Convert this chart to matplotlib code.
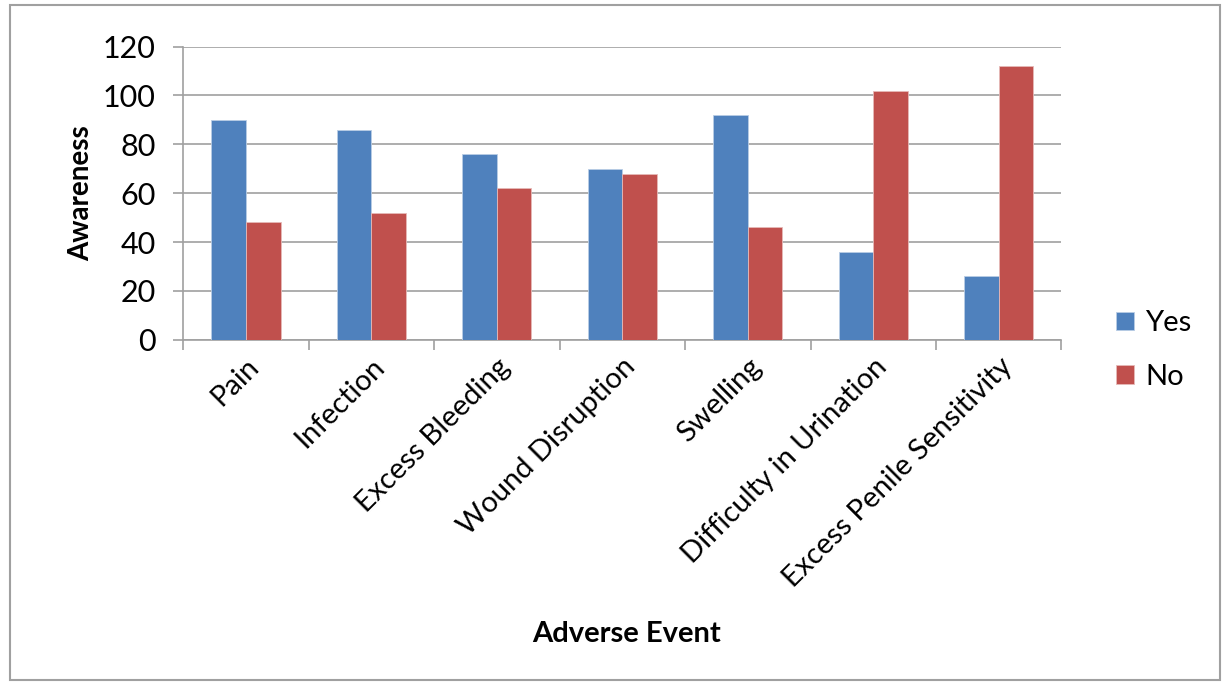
import matplotlib.pyplot as plt
import numpy as np
from matplotlib.patches import Rectangle

plt.rcParams['font.family'] = ['Lato', 'DejaVu Sans']

events = ['Pain', 'Infection', 'Excess Bleeding', 'Wound Disruption', 'Swelling',
          'Difficulty in Urination', 'Excess Penile Sensitivity']
yes = [90, 86, 76, 70, 92, 36, 26]
no = [48, 52, 62, 68, 46, 102, 112]

fig = plt.figure(figsize=(12.3, 6.85), dpi=100)
ax = fig.add_axes([0.149, 0.504, 0.714, 0.428])

x = np.arange(len(events))
w = 0.275
ax.bar(x - w / 2, yes, w, color='#4F81BD', edgecolor='#B9CDE5', linewidth=0.6, label='Yes', zorder=3)
ax.bar(x + w / 2, no, w, color='#C0504D', edgecolor='#E6B9B8', linewidth=0.6, label='No', zorder=3)

ax.set_xlim(-0.5, len(events) - 0.5)
ax.set_ylim(0, 120)
ax.set_yticks(range(0, 121, 20))
ax.yaxis.grid(True, color='#A0A0A0', linewidth=1.2, zorder=0)

# category boundary ticks on x axis
ax.set_xticks(np.arange(-0.5, len(events)), minor=False)
ax.set_xticklabels([])
ax.set_xticks(x, minor=True)
ax.set_xticklabels(events, minor=True, rotation=45, ha='right', rotation_mode='anchor', fontsize=21)
ax.tick_params(axis='x', which='minor', length=0, pad=10)
ax.tick_params(axis='x', which='major', length=7, color='#A0A0A0', width=1.2)
ax.tick_params(axis='y', length=7, color='#A0A0A0', width=1.2, labelsize=22, pad=13)

for s in ['top', 'right']:
    ax.spines[s].set_visible(False)
for s in ['left', 'bottom']:
    ax.spines[s].set_color('#A0A0A0')
    ax.spines[s].set_linewidth(1.2)

ax.set_ylabel('Awareness', fontsize=20, fontweight='bold', labelpad=6)
fig.text(0.509, 0.075, 'Adverse Event', fontsize=21, fontweight='bold', ha='center', va='center')

fig.legend(loc='center left', bbox_to_anchor=(0.886, 0.489), frameon=False, fontsize=21,
           handlelength=0.6, handleheight=0.6, handletextpad=0.4, labelspacing=0.95)

fig.patches.append(Rectangle((0.008, 0.007), 0.984, 0.985, transform=fig.transFigure,
                             fill=False, edgecolor='#A0A0A0', linewidth=1.5))

fig.savefig('out.png', dpi=100)
